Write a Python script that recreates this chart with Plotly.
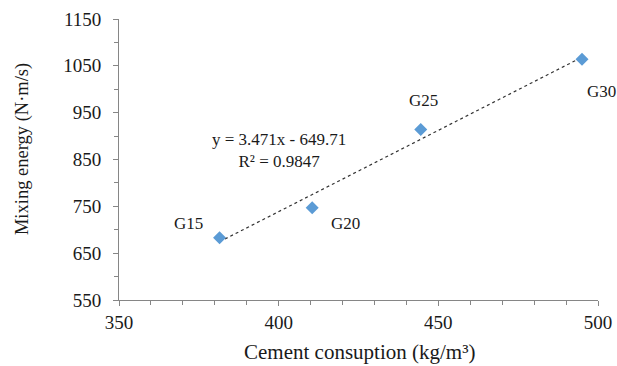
import numpy as np
import plotly.graph_objects as go

labels = ["G15", "G20", "G25", "G30"]
cement = [381.5, 410.5, 444.5, 495.0]
energy = [683, 747, 914, 1064]
slope = 3.471
intercept = -649.71
r2 = 0.9847
label_shift = {"G15": (-31, 14), "G20": (33, -16), "G25": (3, 29), "G30": (19, -32)}

font_family = "Liberation Serif"
txt_color = "#1a1a1a"

fig = go.Figure()
tx = np.array([min(cement), max(cement)])
fig.add_trace(go.Scatter(x=tx, y=slope * tx + intercept, mode="lines",
                         line=dict(color="#333333", width=1.2, dash="dot"),
                         hoverinfo="skip", showlegend=False))
fig.add_trace(go.Scatter(x=cement, y=energy, mode="markers",
                         marker=dict(symbol="diamond", size=10, color="#5B9BD5"),
                         showlegend=False))

for lab, xv, yv in zip(labels, cement, energy):
    dx, dy = label_shift[lab]
    fig.add_annotation(x=xv, y=yv, text=lab, showarrow=False, xshift=dx, yshift=dy,
                       font=dict(family=font_family, size=17, color=txt_color))

fig.add_annotation(x=400.2, y=869, text=f"y = {slope}x - {abs(intercept)}<br>R² = {r2}",
                   showarrow=False, align="center",
                   font=dict(family=font_family, size=17, color=txt_color))

# axis titles as annotations for exact placement
fig.add_annotation(xref="paper", yref="paper", x=0.5, y=0, yshift=-52, xshift=1,
                   text="Cement consuption (kg/m³)", showarrow=False,
                   xanchor="center", yanchor="middle",
                   font=dict(family=font_family, size=21, color=txt_color))
fig.add_annotation(xref="paper", yref="paper", x=0, y=0.537, xshift=-97,
                   text="Mixing energy (N·m/s)", showarrow=False, textangle=-90,
                   xanchor="center", yanchor="middle",
                   font=dict(family=font_family, size=18.5, color=txt_color))

axis_common = dict(showgrid=False, zeroline=False, showline=True, linecolor="#868686",
                   linewidth=1, ticks="outside", tickcolor="#868686", ticklen=5,
                   automargin=False,
                   tickfont=dict(family=font_family, size=19, color=txt_color))

fig.update_xaxes(range=[350, 500], tickvals=[350, 400, 450, 500],
                 ticktext=[str(v) for v in [350, 400, 450, 500]],
                 minor=dict(dtick=10, ticks="outside", ticklen=4, tickcolor="#868686"),
                 **axis_common)
fig.update_yaxes(range=[550, 1150], tickvals=[550, 650, 750, 850, 950, 1050, 1150],
                 ticktext=[str(v) for v in [550, 650, 750, 850, 950, 1050, 1150]],
                 minor=dict(dtick=50, tick0=550, ticks="outside", ticklen=4, tickcolor="#868686"),
                 ticklabelstandoff=8,
                 **axis_common)

fig.update_layout(width=617, height=366, margin=dict(l=119, r=19, t=19, b=66),
                  font=dict(family=font_family, color=txt_color),
                  plot_bgcolor="white", paper_bgcolor="white")
fig.write_html("out.html")
